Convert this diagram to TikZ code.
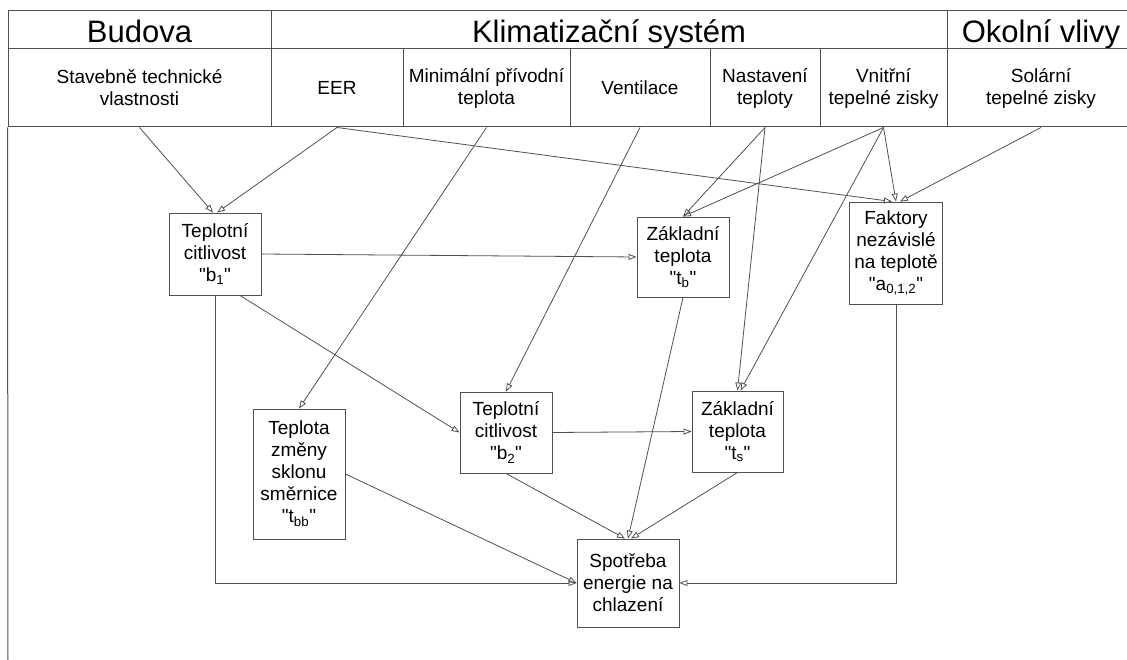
\documentclass[tikz,border=0pt]{standalone}
\usepackage{fontspec}
\setmainfont{Liberation Sans}
\usetikzlibrary{arrows.meta}
\definecolor{carai}{RGB}{80,80,80}
\newcommand{\uvoz}[1]{\textquotedbl#1\textquotedbl}
\tikzset{
  hlava/.style={draw=carai, line width=1pt, inner sep=0pt, align=center, font=\fontsize{19}{22}\selectfont},
  titul/.style={hlava, minimum height=38pt, text height=28pt, text depth=2pt, font=\fontsize{31}{37}\selectfont},
  blok/.style={draw=carai, line width=0.9pt, inner sep=0pt, align=center, minimum width=92pt, font=\fontsize{19}{22}\selectfont},
  vazba/.style={draw=carai, line width=0.8pt, -{Triangle[open,length=8pt,width=6pt]}}
}

\begin{document}
\begin{tikzpicture}[x=1pt,y=-1pt]
            \useasboundingbox (0,0) rectangle (1127,660);

            % hlavicka
            \node[titul, minimum width=263pt] (budova) at (139.5,30) {Budova};
            \node[titul, minimum width=676pt] (klima) at (609,30) {Klimatizační systém};
            \node[titul, minimum width=188pt] (okoli) at (1041,30) {Okolní vlivy};

            \node[hlava, minimum width=263pt, minimum height=78pt] (stav) at (139.5,88) {Stavebně technické\\vlastnosti};
            \node[hlava, minimum width=132pt, minimum height=78pt] (eer) at (337,88) {EER};
            \node[hlava, minimum width=167pt, minimum height=78pt] (minpr) at (486.5,88) {Minimální přívodní\\teplota};
            \node[hlava, minimum width=140pt, minimum height=78pt] (vent) at (640,88) {Ventilace};
            \node[hlava, minimum width=110pt, minimum height=78pt] (nast) at (765,88) {Nastavení\\teploty};
            \node[hlava, minimum width=127pt, minimum height=78pt] (vnit) at (883.5,88) {Vnitřní\\tepelné zisky};
            \node[hlava, minimum width=188pt, minimum height=78pt] (solar) at (1041,88) {Solární\\tepelné zisky};
            \coordinate (dno) at (8,660);
            \draw[carai, line width=1pt] (stav.south west) -- (dno);

            % parametry
            \node[blok, minimum height=82pt] (b1) at (215,254) {Teplotní\\citlivost\\\uvoz{b\textsubscript{1}}};
            \node[blok, minimum height=80pt] (tb) at (683,257) {Základní\\teplota\\\uvoz{t\textsubscript{b}}};
            \node[blok, minimum width=93pt, minimum height=102pt] (a) at (896,253) {Faktory\\nezávislé\\na teplotě\\\uvoz{a\textsubscript{0,1,2}}};
            \node[blok, minimum height=130pt] (tbb) at (299,474) {Teplota\\změny\\sklonu\\směrnice\\\uvoz{t\textsubscript{bb}}};
            \node[blok, minimum height=81pt] (b2) at (506,432.5) {Teplotní\\citlivost\\\uvoz{b\textsubscript{2}}};
            \node[blok, minimum width=91pt, minimum height=81pt] (ts) at (737.5,431.5) {Základní\\teplota\\\uvoz{t\textsubscript{s}}};
            \node[blok, minimum width=102pt, minimum height=88pt] (spot) at (628,583) {Spotřeba\\energie na\\chlazení};

            % vlivy z hlavicky
            \draw[vazba] (stav.south) -- ([xshift=-2pt]b1.north);
            \draw[vazba] (eer.south) -- ([xshift=2pt]b1.north);
            \draw[vazba] (eer.south) -- ([xshift=-4pt]a.north);
            \draw[vazba] (minpr.south) -- (tbb.north);
            \draw[vazba] (vent.south) -- (b2.north);
            \draw[vazba] (nast.south) -- (tb.north);
            \draw[vazba] (nast.south) -- (ts.north);
            \draw[vazba] (vnit.south) -- (tb.north);
            \draw[vazba] (vnit.south) -- ([xshift=3pt]ts.north);
            \draw[vazba] (vnit.south) -- (a.north);
            \draw[vazba] (solar.south) -- ([xshift=4pt]a.north);

            % vazby mezi parametry
            \draw[vazba] (b1.east) -- (tb.west);
            \draw[vazba] ([xshift=25pt]b1.south) -- (b2.west);
            \draw[vazba] (b2.east) -- (ts.west);
            \draw[vazba] (b1.south) |- (spot.west);
            \draw[vazba] (tbb.east) -- (spot.west);
            \draw[vazba] (b2.south) -- ([xshift=-3pt]spot.north);
            \draw[vazba] (tb.south) -- (spot.north);
            \draw[vazba] (ts.south) -- ([xshift=3pt]spot.north);
            \draw[vazba] (a.south) |- (spot.east);

        \end{tikzpicture}
\end{document}
